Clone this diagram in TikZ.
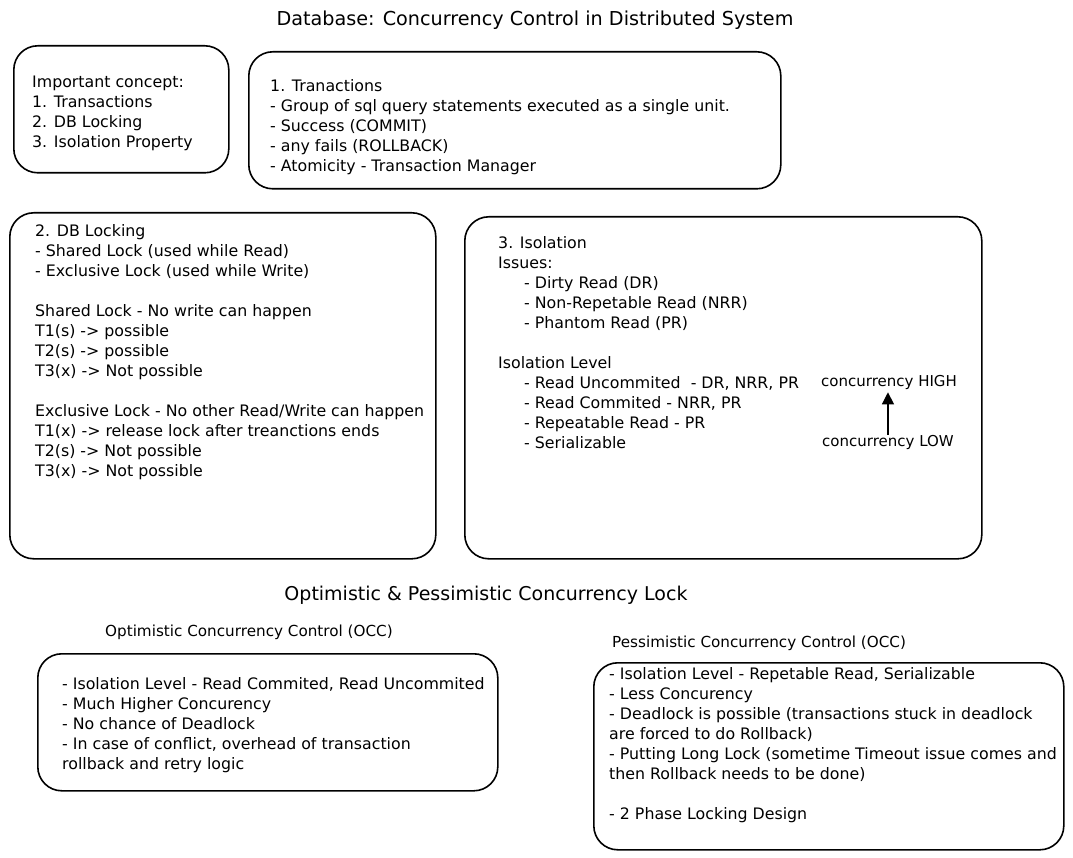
\documentclass[tikz,border=0pt]{standalone}
\usepackage{fontspec}
\setmainfont{DejaVu Sans}
\usepackage{tikz}
\usetikzlibrary{arrows.meta,positioning}

\newcommand{\lvl}{\hspace*{26pt}}

\begin{document}
\begin{tikzpicture}[x=1pt, y=-1pt]
        \tikzset{card/.style={draw, line width=1.6pt, rounded corners=24pt, anchor=north west, inner sep=0pt}}
        \tikzset{body/.style={anchor=north west, align=left, inner sep=0pt, font=\fontsize{15.8}{20}\selectfont}}
        \tikzset{heading/.style={inner sep=0pt, font=\fontsize{19.2}{24}\selectfont}}
        \tikzset{label/.style={inner sep=0pt, anchor=west, font=\fontsize{15}{20}\selectfont}}

        \useasboundingbox (0,0) rectangle (1073,858);

        \node [heading] (title) at (535,20) {Database: Concurrency Control in Distributed System};

        \node [card, minimum width=215pt, minimum height=127pt] (concept) at (13,45) {};
        \node [body] (conceptText) at ([shift={(19,31)}]concept.north west) {Important concept:\\ 1. Transactions\\ 2. DB Locking\\ 3. Isolation Property};

        \node [card, minimum width=532pt, minimum height=137pt] (trans) at (248,51) {};
        \node [body] (transText) at ([shift={(22,28)}]trans.north west) {1. Tranactions\\ - Group of sql query statements executed as a single unit.\\ - Success (COMMIT)\\ - any fails (ROLLBACK)\\ - Atomicity - Transaction Manager};

        \node [card, minimum width=426pt, minimum height=346pt] (locking) at (9,212) {};
        \node [body] (lockingText) at ([shift={(26,12)}]locking.north west) {2. DB Locking\\ - Shared Lock (used while Read)\\ - Exclusive Lock (used while Write)\\[20pt] Shared Lock - No write can happen\\ T1(s) -> possible\\ T2(s) -> possible\\ T3(x) -> Not possible\\[20pt] Exclusive Lock - No other Read/Write can happen\\ T1(x) -> release lock after treanctions ends\\ T2(s) -> Not possible\\ T3(x) -> Not possible};

        \node [card, minimum width=517pt, minimum height=342pt] (isolation) at (464,216) {};
        \node [body] (isolationText) at ([shift={(34,20)}]isolation.north west) {3. Isolation\\ Issues:\\ \lvl- Dirty Read (DR)\\ \lvl- Non-Repetable Read (NRR)\\ \lvl- Phantom Read (PR)\\[20pt] Isolation Level\\ \lvl- Read Uncommited\ \ - DR, NRR, PR\\ \lvl- Read Commited - NRR, PR\\ \lvl- Repeatable Read - PR\\ \lvl- Serializable};
        \node [label] (high) at (821,382) {concurrency HIGH};
        \node [label] (low) at (822,442) {concurrency LOW};
        \draw [-{Triangle[length=12pt, width=12pt]}, line width=1.2pt, shorten >=3pt] (low.north) -- (low.north |- high.south);

        \node [heading, font=\fontsize{19}{24}\selectfont] (subtitle) at (486,595) {Optimistic \& Pessimistic Concurrency Lock};

        \node [label, font=\fontsize{15.2}{20}\selectfont] (occLabel) at (105,632) {Optimistic Concurrency Control (OCC)};
        \node [card, minimum width=460pt, minimum height=137pt] (occ) at (37,653) {};
        \node [body] (occText) at ([shift={(25,24)}]occ.north west) {- Isolation Level - Read Commited, Read Uncommited\\ - Much Higher Concurency\\ - No chance of Deadlock\\ - In case of conflict, overhead of transaction\\ rollback and retry logic};

        \node [label, font=\fontsize{15.2}{20}\selectfont] (pccLabel) at (612,643) {Pessimistic Concurrency Control (OCC)};
        \node [card, minimum width=470pt, minimum height=187pt] (pcc) at (593,662) {};
        \node [body] (pccText) at ([shift={(16,5)}]pcc.north west) {- Isolation Level - Repetable Read, Serializable\\ - Less Concurency\\ - Deadlock is possible (transactions stuck in deadlock\\ are forced to do Rollback)\\ - Putting Long Lock (sometime Timeout issue comes and\\ then Rollback needs to be done)\\[20pt] - 2 Phase Locking Design};
    \end{tikzpicture}
\end{document}
